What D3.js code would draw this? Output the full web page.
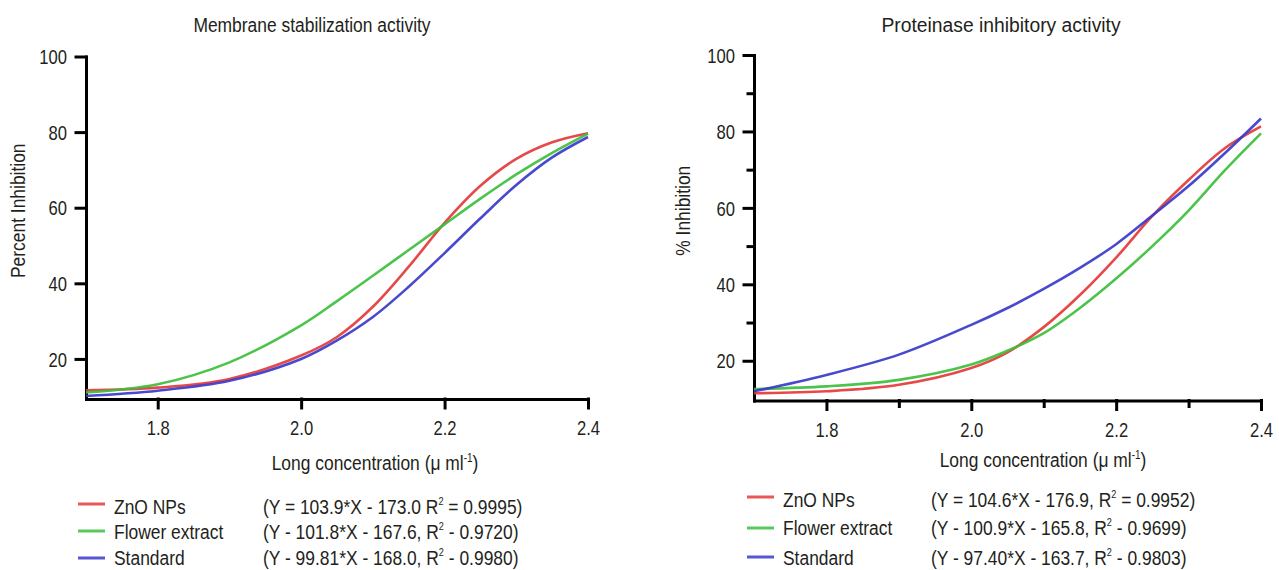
<!DOCTYPE html>
<html>
<head>
<meta charset="utf-8">
<title>Anti-inflammatory activity</title>
<script src="https://d3js.org/d3.v7.min.js"></script>
<style>
  body { margin: 0; background: #fff; }
  text { font-family: "Liberation Sans", Arial, sans-serif; fill: #231f20; }
  .axis path, .axis line { stroke: #000; stroke-width: 3; stroke-linecap: square; }
  .axis text { font-size: 20px; }
</style>
</head>
<body>
<svg id="chart" width="1279" height="570"></svg>
<script>
// series names and colours
const seriesNames = ['ZnO NPs', 'Flower extract', 'Standard'];
const seriesColors = ['#e53a3a', '#3dbf3d', '#3a3acb'];

// x values (log concentration) shared by every curve
const logConc = [1.7, 1.8, 1.9, 2.0, 2.05, 2.1, 2.15, 2.2, 2.25, 2.3, 2.35, 2.4];

// membrane stabilization (% inhibition)
const membraneZnO      = [11.7, 12.4, 14.7, 20.9, 25.8, 33.8, 44.4, 56.0, 65.8, 72.9, 77.3, 79.7];
const membraneFlower   = [11.1, 13.3, 19.1, 28.9, 35.3, 42.0, 48.8, 55.6, 62.4, 68.8, 74.5, 79.6];
const membraneStandard = [10.2, 11.6, 14.2, 20.0, 24.9, 31.1, 39.1, 48.0, 57.2, 66.0, 73.3, 78.7];

// proteinase inhibitory (% inhibition)
const proteinaseZnO      = [11.5, 12.0, 13.7, 18.1, 22.2, 28.8, 37.2, 47.0, 57.9, 67.3, 75.6, 81.3];
const proteinaseFlower   = [12.6, 13.3, 15.0, 19.0, 22.6, 27.2, 33.8, 41.5, 50.0, 59.3, 69.8, 79.5];
const proteinaseStandard = [12.0, 16.3, 21.6, 29.4, 33.8, 38.8, 44.3, 50.5, 58.0, 65.7, 74.3, 83.4];

// tick labels
const xTicks = [1.8, 2.0, 2.2, 2.4];
const xMinorTicks = [1.9, 2.1, 2.3];
const yTicks = [20, 40, 60, 80, 100];
const yMinorTicks = [30, 50, 70, 90];

// fitted equations shown in legends
const membraneEq = [
  ['(Y = 103.9*X - 173.0 R', ' = 0.9995)'],
  ['(Y - 101.8*X - 167.6, R', ' - 0.9720)'],
  ['(Y - 99.81*X - 168.0, R', ' - 0.9980)']
];
const proteinaseEq = [
  ['(Y = 104.6*X - 176.9, R', ' = 0.9952)'],
  ['(Y - 100.9*X - 165.8, R', ' - 0.9699)'],
  ['(Y - 97.40*X - 163.7, R', ' - 0.9803)']
];

// the original uses a condensed face; no narrow font here so squeeze horizontally
const SQ = 0.83;
const squeeze = (sel, k = SQ) => sel.each(function () {
  const t = d3.select(this);
  const x = +t.attr('x') || 0;
  t.attr('x', x / k).attr('transform', (t.attr('transform') || '') + ` scale(${k},1)`);
});

const svg = d3.select('#chart');

const panels = [
  {
    title: 'Membrane stabilization activity', titleX: 312, titleSq: 0.83,
    yLabel: 'Percent Inhibition', yLabelX: 25,
    xLabelX: 375, xLabelY: 470,
    x0: 86, x1: 588, yTop: 56.5, yBot: 399, yMin: 9.4,
    minor: false,
    series: [membraneZnO, membraneFlower, membraneStandard],
    eq: membraneEq,
    leg: { sx: 78, tx: 114, ex: 263, rows: [514, 539.5, 565], sw: [504, 531, 558] }
  },
  {
    title: 'Proteinase inhibitory activity', titleX: 1001, titleSq: 0.92,
    yLabel: '% Inhibition', yLabelX: 690,
    xLabelX: 1043, xLabelY: 467,
    x0: 754, x1: 1261, yTop: 55, yBot: 400.5, yMin: 9.6,
    minor: true,
    series: [proteinaseZnO, proteinaseFlower, proteinaseStandard],
    eq: proteinaseEq,
    leg: { sx: 747, tx: 783, ex: 931, rows: [507, 535, 565], sw: [497, 528, 557] }
  }
];

panels.forEach(p => {
  const x = d3.scaleLinear().domain([1.7, 2.4]).range([p.x0, p.x1]);
  const y = d3.scaleLinear().domain([p.yMin, 100]).range([p.yBot, p.yTop]);

  // title
  svg.append('text').attr('x', p.titleX).attr('y', 32)
    .attr('text-anchor', 'middle').style('font-size', '21px').text(p.title)
    .call(squeeze, p.titleSq);

  // minor ticks first so the axes draw over them
  if (p.minor) {
    svg.append('g').attr('class', 'axis')
      .attr('transform', `translate(${p.x0},0)`)
      .call(d3.axisLeft(y).tickValues(yMinorTicks).tickSize(6).tickFormat(''))
      .select('.domain').remove();
    svg.append('g').attr('class', 'axis')
      .attr('transform', `translate(0,${p.yBot})`)
      .call(d3.axisBottom(x).tickValues(xMinorTicks).tickSize(6).tickFormat(''))
      .select('.domain').remove();
  }

  // axes
  const ya = svg.append('g').attr('class', 'axis')
    .attr('transform', `translate(${p.x0},0)`)
    .call(d3.axisLeft(y).tickValues(yTicks).tickSize(10).tickSizeOuter(0).tickPadding(9));
  ya.selectAll('text').attr('dy', '0.36em').call(squeeze);

  const xa = svg.append('g').attr('class', 'axis')
    .attr('transform', `translate(0,${p.yBot})`)
    .call(d3.axisBottom(x).tickValues(xTicks).tickFormat(d3.format('.1f'))
      .tickSize(9).tickSizeOuter(0).tickPadding(13));
  xa.selectAll('text').call(squeeze);

  // axis titles
  svg.append('text')
    .attr('transform', `translate(${p.yLabelX},${(p.yTop + p.yBot) / 2 - 17}) rotate(-90)`)
    .attr('text-anchor', 'middle').style('font-size', '21px').text(p.yLabel)
    .call(squeeze);

  const xl = svg.append('text').attr('x', p.xLabelX).attr('y', p.xLabelY)
    .attr('text-anchor', 'middle').style('font-size', '21px');
  xl.append('tspan').text('Long concentration (\u03bc ml');
  xl.append('tspan').attr('dy', -8).style('font-size', '12px').text('-1');
  xl.append('tspan').attr('dy', 8).text(')');
  xl.call(squeeze);

  // curves
  const line = d3.line()
    .x((d, i) => x(logConc[i]))
    .y(d => y(d))
    .curve(d3.curveCatmullRom.alpha(0.5));

  p.series.forEach((s, i) => {
    svg.append('path').datum(s)
      .attr('d', line)
      .attr('fill', 'none')
      .attr('stroke', seriesColors[i])
      .attr('stroke-width', 2.6)
      .attr('stroke-opacity', 0.92);
  });

  // legend
  seriesNames.forEach((name, i) => {
    svg.append('line')
      .attr('x1', p.leg.sx).attr('x2', p.leg.sx + 27)
      .attr('y1', p.leg.sw[i]).attr('y2', p.leg.sw[i])
      .attr('stroke', seriesColors[i]).attr('stroke-width', 3).attr('stroke-opacity', 0.85);
    svg.append('text').attr('x', p.leg.tx).attr('y', p.leg.rows[i])
      .style('font-size', '21px').text(name)
      .call(squeeze);
    const eq = svg.append('text').attr('x', p.leg.ex).attr('y', p.leg.rows[i])
      .style('font-size', '21px');
    eq.append('tspan').text(p.eq[i][0]);
    eq.append('tspan').attr('dy', -9).style('font-size', '11px').text('2');
    eq.append('tspan').attr('dy', 9).text(p.eq[i][1]);
    eq.call(squeeze);
  });
});
</script>
</body>
</html>
